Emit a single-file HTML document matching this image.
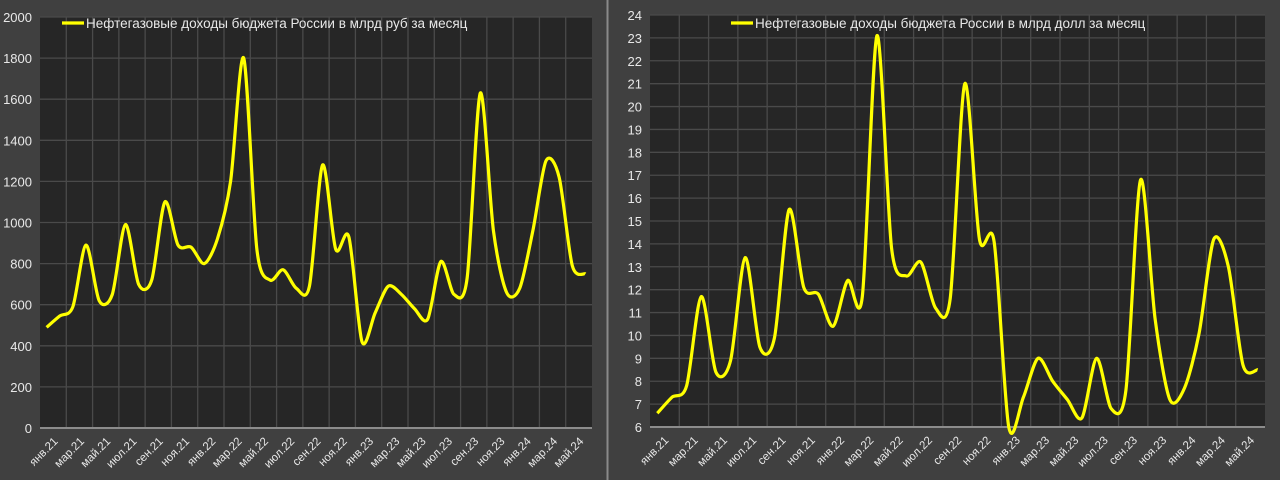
<!DOCTYPE html>
<html><head><meta charset="utf-8"><style>
body{margin:0;background:#404040;width:1280px;height:480px;overflow:hidden}
svg{display:block}
text{font-family:"Liberation Sans",sans-serif;fill:#e8e8e8}
</style></head><body>
<svg id="s" width="1280" height="480" xmlns="http://www.w3.org/2000/svg">
<rect width="1280" height="480" fill="#404040"/>
<line x1="607.5" y1="0" x2="607.5" y2="480" stroke="#8a8a8a" stroke-width="2"/>
</svg>
<script>
const NS="http://www.w3.org/2000/svg",s=document.getElementById('s');
function el(t,a,txt){const e=document.createElementNS(NS,t);for(const k in a)e.setAttribute(k,a[k]);if(txt!==undefined)e.textContent=txt;s.appendChild(e);return e;}
const labels=["янв.21","мар.21","май.21","июл.21","сен.21","ноя.21","янв.22","мар.22","май.22","июл.22","сен.22","ноя.22","янв.23","мар.23","май.23","июл.23","сен.23","ноя.23","янв.24","мар.24","май.24"];
function chart(o){
  const {x0,x1,yTop,yBot,vmin,vmax,step,data,legendX,legend}=o;
  el('rect',{x:x0,y:yTop,width:x1-x0,height:yBot-yTop,fill:'#262626'});
  const Y=v=>yBot-(v-vmin)/(vmax-vmin)*(yBot-yTop);
  const cw=(x1-x0)/42;
  for(let v=vmin;v<=vmax+1e-9;v+=step){
    const y=Y(v);
    if(v>vmin)el('line',{x1:x0,x2:x1,y1:y,y2:y,stroke:'#4a4a4a','stroke-width':1.3});
    el('text',{x:x0-8,y:y+5,'text-anchor':'end','font-size':13},String(v));
  }
  for(let k=1;k<21;k++){const x=x0+cw*2*k;el('line',{x1:x,x2:x,y1:yTop,y2:yBot,stroke:'#4a4a4a','stroke-width':1.3});}
  el('line',{x1:x0,x2:x1,y1:yBot,y2:yBot,stroke:'#8c8c8c','stroke-width':2});
  labels.forEach((l,k)=>{const x=x0+cw*(2*k+0.5)+12,y=yBot+14;
    el('text',{x:x,y:y,'text-anchor':'end','font-size':11.5,transform:`rotate(-45 ${x} ${y})`},l);});
  const p=data.map((v,i)=>[x0+cw*(i+0.5),Y(v)]);
  let d=`M${p[0][0]},${p[0][1]}`;
  const t=7;
  for(let i=0;i<p.length-1;i++){const a=p[Math.max(0,i-1)],b=p[i],c=p[i+1],e=p[Math.min(p.length-1,i+2)];
    d+=` C${b[0]+(c[0]-a[0])/t},${b[1]+(c[1]-a[1])/t} ${c[0]-(e[0]-b[0])/t},${c[1]-(e[1]-b[1])/t} ${c[0]},${c[1]}`;}
  el('path',{d:d,fill:'none',stroke:'#ffff00','stroke-width':3.2,'stroke-linejoin':'round'});
  el('line',{x1:legendX,x2:legendX+22,y1:23,y2:23,stroke:'#ffff00','stroke-width':3.2});
  el('text',{x:legendX+24,y:28,'font-size':13.5},legend);
}
chart({x0:40,x1:592,yTop:17,yBot:428,vmin:0,vmax:2000,step:200,legendX:62,
 legend:"Нефтегазовые доходы бюджета России в млрд руб за месяц",
 data:[490,545,590,890,620,650,990,700,720,1100,890,880,800,920,1200,1800,870,720,770,680,690,1280,870,930,420,560,690,650,580,530,810,650,730,1630,960,660,680,960,1300,1220,790,750]});
chart({x0:650,x1:1265,yTop:15,yBot:427,vmin:6,vmax:24,step:1,legendX:731,
 legend:"Нефтегазовые доходы бюджета России в млрд долл за месяц",
 data:[6.6,7.3,7.8,11.7,8.4,8.9,13.4,9.5,9.9,15.5,12.1,11.8,10.4,12.4,11.7,23.1,13.8,12.6,13.2,11.2,11.6,21.0,14.2,14.1,6.0,7.3,9.0,8.0,7.2,6.4,9.0,6.8,7.6,16.8,10.7,7.2,7.7,10.1,14.2,13.0,8.7,8.5]});
</script>
</body></html>
